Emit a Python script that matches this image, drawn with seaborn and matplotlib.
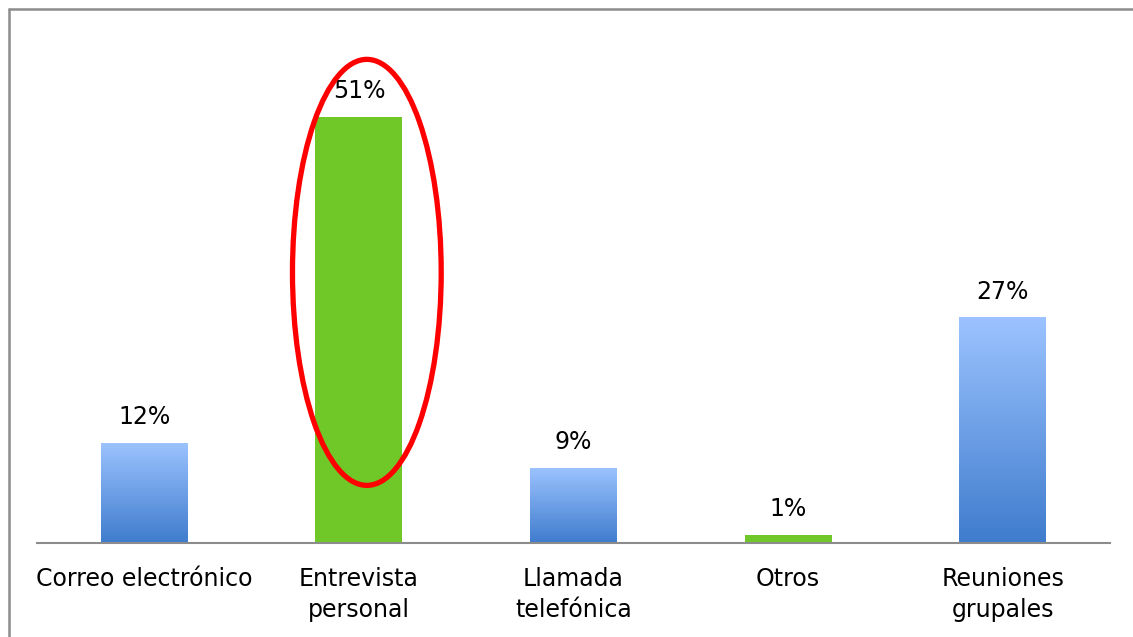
import matplotlib
matplotlib.use("Agg")
import matplotlib.pyplot as plt
import matplotlib.patches as mpatches
import matplotlib.lines as mlines
import numpy as np
import pandas as pd
import seaborn as sns

categorias = ["Correo electrónico", "Entrevista\npersonal", "Llamada\ntelefónica", "Otros", "Reuniones\ngrupales"]
porcentajes = [12, 51, 9, 1, 27]
etiquetas = ["12%", "51%", "9%", "1%", "27%"]
degradado = [True, False, True, False, True]

AZUL_CLARO = "#9cc3ff"
AZUL_OSCURO = "#3f7ccd"
VERDE = "#70c828"

df = pd.DataFrame({"categoria": categorias, "valor": porcentajes})

sns.set_theme(style="white")
plt.rcParams["font.family"] = ["DejaVu Sans"]

fig = plt.figure(figsize=(11.33, 6.37), dpi=100)
ax = fig.add_axes([37 / 1133, 94 / 637, 1073 / 1133, 523 / 637])

colores = [AZUL_OSCURO if g else VERDE for g in degradado]
sns.barplot(data=df, x="categoria", y="valor", hue="categoria", palette=colores,
            width=0.405, legend=False, ax=ax, saturation=1)

# degradado en las barras azules
grad = np.linspace(0, 1, 256).reshape(-1, 1)
cmap = matplotlib.colors.LinearSegmentedColormap.from_list("az", [AZUL_OSCURO, AZUL_CLARO])
for patch, g in zip(ax.patches, degradado):
    patch.set_edgecolor("none")
    if not g:
        continue
    x0, y0 = patch.get_x(), patch.get_y()
    w, h = patch.get_width(), patch.get_height()
    im = ax.imshow(grad, cmap=cmap, aspect="auto", origin="lower",
                   extent=[x0, x0 + w, y0, y0 + h], zorder=patch.get_zorder() + 0.1)
    im.set_clip_path(patch)

for i, (v, t) in enumerate(zip(porcentajes, etiquetas)):
    ax.text(i, v + 3.1, t, ha="center", va="center", fontsize=17, color="black")

ax.set_xlim(-0.5, 4.5)
ax.set_ylim(0, 51 * 523 / 426)
ax.set_xlabel("")
ax.set_ylabel("")
ax.set_yticks([])
ax.tick_params(axis="x", length=0, pad=17, labelsize=17, colors="black")
for lab in ax.get_xticklabels():
    lab.set_linespacing(1.4)
    lab.set_verticalalignment("top")
for s in ["top", "right", "left"]:
    ax.spines[s].set_visible(False)
ax.spines["bottom"].set_color("#8c8c8c")
ax.spines["bottom"].set_linewidth(1.5)

# elipse roja
ell = mpatches.Ellipse((1.037, 32.4), 0.693, 51.0, fill=False, edgecolor="#ff0000",
                       linewidth=3.8, zorder=5, clip_on=False)
ax.add_patch(ell)

# marco (solo arriba e izquierda)
x_izq = 8.5 / 1133
y_sup = 1 - 8.5 / 637
fig.add_artist(mlines.Line2D([x_izq, 1], [y_sup, y_sup], transform=fig.transFigure,
                             color="#8c8c8c", linewidth=1.8))
fig.add_artist(mlines.Line2D([x_izq, x_izq], [0, y_sup], transform=fig.transFigure,
                             color="#8c8c8c", linewidth=1.8))

fig.savefig("out.png", dpi=100)
